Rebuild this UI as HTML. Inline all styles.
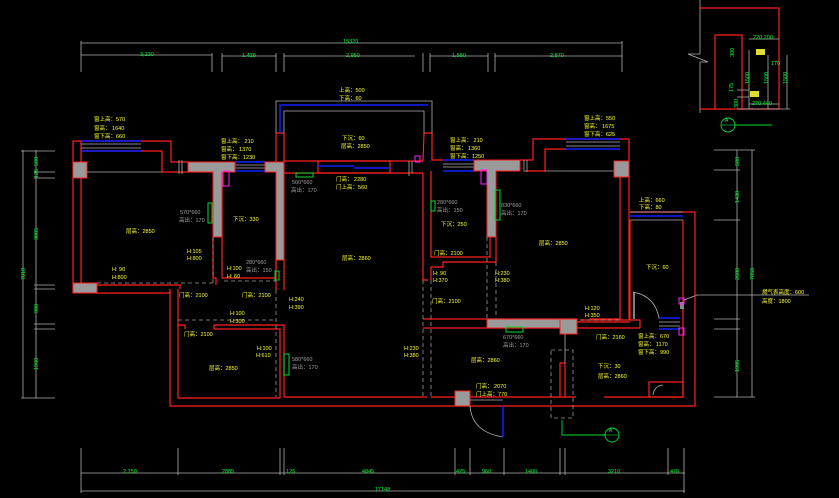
<!DOCTYPE html>
<html><head><meta charset="utf-8"><style>
html,body{margin:0;padding:0;background:#000;width:839px;height:498px;overflow:hidden}
svg{display:block}
text{font-family:"Liberation Sans","Noto Sans CJK SC",sans-serif;font-size:5.5px}
.y{fill:#ffff33}.g{fill:#00ff33}.w{fill:#a0a0a0}
.r{stroke:#ff2020;stroke-width:1.2;fill:none}
.gr{stroke:#b0b0b0;stroke-width:0.8;fill:none}
.bl{stroke:#1020ff;stroke-width:1.5}
.d{stroke:#999;stroke-width:0.8;stroke-dasharray:4 3;fill:none}
.gf{fill:#9a9a9a;stroke:#ff2020;stroke-width:1}
.gb{fill:none;stroke:#00dd33;stroke-width:1}
.mg{fill:none;stroke:#ff22ff;stroke-width:1}
</style></head><body>
<svg width="839" height="498" viewBox="0 0 839 498" xmlns="http://www.w3.org/2000/svg">
<!-- top dims -->
<g class="gr">
<line x1="81" y1="43" x2="622" y2="43"/>
<line x1="81" y1="55" x2="212" y2="55"/><line x1="222" y1="56" x2="276" y2="56"/>
<line x1="284" y1="56" x2="415" y2="56"/><line x1="430" y1="56" x2="488" y2="56"/><line x1="495" y1="56" x2="622" y2="56"/>
<line x1="81" y1="41" x2="81" y2="72"/><line x1="212" y1="53" x2="212" y2="72"/><line x1="222" y1="53" x2="222" y2="72"/>
<line x1="276" y1="53" x2="276" y2="72"/><line x1="284" y1="53" x2="284" y2="72"/><line x1="423" y1="53" x2="423" y2="72"/>
<line x1="430" y1="53" x2="430" y2="72"/><line x1="488" y1="53" x2="488" y2="72"/><line x1="495" y1="53" x2="495" y2="72"/><line x1="622" y1="41" x2="622" y2="72"/>
</g>
<text class="g" x="343" y="43">15320</text>
<text class="g" x="140" y="56">3,230</text><text class="g" x="242" y="57">1,428</text><text class="g" x="346" y="57">2,950</text>
<text class="g" x="452" y="57">1,580</text><text class="g" x="550" y="57">2,570</text>

<!-- left dims -->
<g class="gr">
<line x1="23" y1="150" x2="23" y2="398"/><line x1="36" y1="150" x2="36" y2="398"/>
<line x1="21" y1="151" x2="55" y2="151"/><line x1="34" y1="172" x2="55" y2="172"/><line x1="34" y1="178" x2="55" y2="178"/>
<line x1="34" y1="285" x2="55" y2="285"/><line x1="34" y1="289" x2="55" y2="289"/><line x1="34" y1="324" x2="55" y2="324"/><line x1="34" y1="329" x2="55" y2="329"/><line x1="21" y1="398" x2="55" y2="398"/>
</g>
<text class="g" transform="translate(38,166) rotate(-90)">580</text>
<text class="g" transform="translate(38,178) rotate(-90)">125</text>
<text class="g" transform="translate(38,240) rotate(-90)">3005</text>
<text class="g" transform="translate(25,280) rotate(-90)">7010</text>
<text class="g" transform="translate(38,313) rotate(-90)">980</text>
<text class="g" transform="translate(38,370) rotate(-90)">1960</text>

<!-- right dims -->
<g class="gr">
<line x1="737" y1="150" x2="737" y2="397"/><line x1="752" y1="150" x2="752" y2="397"/>
<line x1="714" y1="150" x2="755" y2="150"/><line x1="714" y1="170" x2="740" y2="170"/><line x1="714" y1="220" x2="740" y2="220"/>
<line x1="714" y1="319" x2="740" y2="319"/><line x1="714" y1="329" x2="740" y2="329"/><line x1="714" y1="397" x2="755" y2="397"/>
<line x1="684" y1="300" x2="697" y2="295"/><line x1="697" y1="295" x2="809" y2="295"/>
</g>
<text class="g" transform="translate(739,166) rotate(-90)">580</text>
<text class="g" transform="translate(739,203) rotate(-90)">1430</text>
<text class="g" transform="translate(739,280) rotate(-90)">2600</text>
<text class="g" transform="translate(754,280) rotate(-90)">7050</text>
<text class="g" transform="translate(739,372) rotate(-90)">1905</text>
<text class="y" x="762" y="294">燃气表高度：600</text><text class="y" x="762" y="303">高度：1800</text>

<!-- bottom dims -->
<g class="gr">
<line x1="81" y1="473" x2="685" y2="473"/><line x1="81" y1="491" x2="685" y2="491"/>
<line x1="81" y1="448" x2="81" y2="493"/><line x1="178" y1="448" x2="178" y2="475"/><line x1="280" y1="448" x2="280" y2="475"/>
<line x1="284" y1="448" x2="284" y2="475"/><line x1="455" y1="448" x2="455" y2="475"/><line x1="470" y1="448" x2="470" y2="475"/>
<line x1="504" y1="448" x2="504" y2="475"/><line x1="560" y1="448" x2="560" y2="475"/><line x1="565" y1="448" x2="565" y2="475"/>
<line x1="668" y1="448" x2="668" y2="475"/><line x1="684" y1="448" x2="684" y2="493"/>
</g>
<text class="g" x="123" y="473">2,750</text><text class="g" x="222" y="473">2885</text><text class="g" x="286" y="473">125</text>
<text class="g" x="362" y="473">4845</text><text class="g" x="456" y="473">425</text><text class="g" x="482" y="473">960</text>
<text class="g" x="525" y="473">1400</text><text class="g" x="608" y="473">3210</text><text class="g" x="670" y="473">470</text>
<text class="g" x="375" y="491">17148</text>

<!-- top right inset -->
<g>
<polyline class="gr" points="700,0 700,54 688,54 708,62 700,62 700,113"/>
<polyline class="r" points="700,8 779,8 779,109 700,109"/>
<polyline class="r" points="715,109 715,35 742,35 742,109"/>
<g class="gr">
<line x1="749" y1="39" x2="779" y2="39"/><line x1="749" y1="50" x2="749" y2="109"/><line x1="768" y1="55" x2="768" y2="109"/>
<line x1="787" y1="55" x2="787" y2="109"/><line x1="737" y1="109" x2="790" y2="109"/><line x1="749" y1="104" x2="779" y2="104"/>
<line x1="737" y1="90" x2="749" y2="90"/><line x1="737" y1="97" x2="749" y2="97"/>
</g>
<rect x="756" y="49" width="9" height="6" fill="#dddd33"/><rect x="750" y="91" width="9" height="6" fill="#dddd33"/>
<text class="g" x="753" y="39">220 200</text><text class="g" x="771" y="65">170</text>
<text class="g" x="752" y="105">270 440</text>
<text class="g" transform="translate(749,84) rotate(-90)">1500</text>
<text class="g" transform="translate(768,84) rotate(-90)">1500</text>
<text class="g" transform="translate(787,84) rotate(-90)">1500</text>
<text class="g" transform="translate(734,57) rotate(-90)">300</text>
<text class="g" transform="translate(733,92) rotate(-90)">175</text>
<text class="g" transform="translate(738,108) rotate(-90)">300</text>
<circle cx="728" cy="125" r="7" fill="none" stroke="#00dd33" stroke-width="0.9"/>
<line x1="721" y1="125" x2="735" y2="125" stroke="#00dd33" stroke-width="0.6"/>
<line x1="735" y1="125" x2="772" y2="125" stroke="#00dd33" stroke-width="0.9"/>
<text class="g" x="725" y="122" style="font-size:5px">A</text>
</g>

<!-- section symbol bottom -->
<polyline points="562,420 562,435 605,435" fill="none" stroke="#00dd33" stroke-width="0.9"/>
<circle cx="612" cy="435" r="7" fill="none" stroke="#00dd33" stroke-width="0.9"/>
<line x1="605" y1="435" x2="619" y2="435" stroke="#00dd33" stroke-width="0.6"/>
<text class="g" x="609" y="432" style="font-size:5px">A</text>

<!-- walls -->
<g class="r">
<!-- left exterior -->
<polyline points="73,293 73,141 171,141 171,162 188,162"/>
<polyline points="81,285 81,151 162,151 162,172 213,172"/>
<line x1="81" y1="141" x2="81" y2="151"/>
<!-- top middle bump -->
<polyline points="276,162 276,133 284,133 284,161 423,161"/>
<polyline points="284,173 423,173"/>
<polyline points="423,161 424,133 432,133 432,160 443,160"/>
<!-- center right wall -->
<polyline points="423,173 423,280 428,280"/>
<polyline points="431,171 431,257 490,257 490,237"/>
<polyline points="496,237 496,262 443,262 443,267 431,267 431,280"/>
<!-- right top -->
<polyline points="520,160 533,160 533,139 629,139 629,320 580,320"/>
<polyline points="525,171 545,171 545,149 566,149"/>
<polyline points="620,177 620,319 590,319"/>
<!-- right room -->
<polyline points="630,212 695,212 695,406 170,406 170,293 97,293"/>
<polyline points="630,220 630,320 640,320 640,328"/>
<polyline points="683,220 683,397 604,397"/>
<polyline points="576,397 431,397"/>
<polyline points="427,397 284,397"/>
<!-- kitchen wall -->
<polyline points="423,319 577,319"/><polyline points="423,328 560,328"/>
<polyline points="577,322 630,322"/><polyline points="577,328 640,328"/>
<!-- left rooms -->
<polyline points="222,178 222,278 276,278 276,260"/>
<polyline points="213,237 213,278 216,278 216,285"/>
<polyline points="97,285 180,285 180,289"/>
<polyline points="170,289 170,293"/>
<polyline points="178,329 178,398 280,398 280,329 214,329 214,325 284,325 284,397"/>
<polyline points="178,329 178,325 185,325 185,329"/>
<line x1="276" y1="260" x2="276" y2="290"/><line x1="284" y1="260" x2="284" y2="290"/>
<line x1="178" y1="289" x2="178" y2="325"/>
<!-- kitchen partition -->
<polyline points="560,397 560,363 565,363 565,397"/>
<!-- small bath -->
<rect x="649" y="382" width="34" height="15"/>
</g>
<!-- windows -->
<g>
<line class="bl" x1="81" y1="141" x2="141" y2="141"/><line class="bl" x1="81" y1="151" x2="141" y2="151"/>
<line class="gr" x1="81" y1="144" x2="141" y2="144"/><line class="gr" x1="81" y1="148" x2="141" y2="148"/>
<line class="bl" x1="235" y1="162" x2="265" y2="162"/><line class="bl" x1="235" y1="171" x2="265" y2="171"/>
<line class="gr" x1="235" y1="165" x2="265" y2="165"/><line class="gr" x1="235" y1="168" x2="265" y2="168"/>
<line class="bl" x1="443" y1="160" x2="474" y2="160"/><line class="bl" x1="443" y1="171" x2="474" y2="171"/>
<line class="gr" x1="443" y1="164" x2="474" y2="164"/><line class="gr" x1="443" y1="167" x2="474" y2="167"/>
<line class="bl" x1="566" y1="139" x2="620" y2="139"/><line class="bl" x1="566" y1="149" x2="620" y2="149"/>
<line class="gr" x1="566" y1="142" x2="620" y2="142"/><line class="gr" x1="566" y1="146" x2="620" y2="146"/>
<line class="bl" x1="630" y1="216" x2="683" y2="216"/><line class="gr" x1="630" y1="212" x2="683" y2="212"/><line class="gr" x1="630" y1="220" x2="683" y2="220"/>
<line class="bl" x1="659" y1="318" x2="680" y2="318"/><line class="bl" x1="659" y1="329" x2="680" y2="329"/>
<line class="gr" x1="659" y1="322" x2="680" y2="322"/><line class="gr" x1="659" y1="326" x2="680" y2="326"/>
<!-- top bump -->
<polyline class="gr" points="276,133 276,101 432,101 432,133"/>
<polyline class="gr" points="284,133 284,111 424,111 424,133"/>
<polyline class="bl" points="280,133 280,105 428,105" fill="none"/>
<!-- center glass door -->
<rect x="318" y="161" width="72" height="12" class="r"/>
<line class="bl" x1="318" y1="166" x2="354" y2="166"/><line class="bl" x1="354" y1="168" x2="390" y2="168"/>
<line class="gr" x1="81" y1="172" x2="162" y2="172"/>
<line class="gr" x1="545" y1="171" x2="614" y2="171"/>
<line class="gr" x1="179" y1="160" x2="179" y2="174"/><line class="gr" x1="182" y1="160" x2="182" y2="174"/>
<line class="gr" x1="409" y1="161" x2="409" y2="176"/><line class="gr" x1="412" y1="161" x2="412" y2="173"/>
<line class="gr" x1="524" y1="160" x2="524" y2="172"/><line class="gr" x1="527" y1="160" x2="527" y2="172"/>
</g>
<!-- grey columns -->
<g class="gf">
<rect x="73" y="162" width="14" height="16"/>
<rect x="73" y="283" width="24" height="10"/>
<path d="M188,162 H235 V172 H222 V237 H213 V172 H188 Z"/>
<path d="M265,162 H284 V260 H276 V172 H265 Z"/>
<path d="M474,160 H520 V171 H496 V237 H487 V171 H474 Z"/>
<rect x="614" y="161" width="15" height="16"/>
<rect x="487" y="319" width="73" height="9"/>
<rect x="560" y="319" width="17" height="15"/>
<rect x="455" y="391" width="15" height="15"/>
</g>
<!-- dashed -->
<g class="d">
<line x1="97" y1="283" x2="213" y2="283"/><line x1="213" y1="237" x2="213" y2="283"/>
<line x1="224" y1="281" x2="276" y2="281"/>
<line x1="178" y1="320" x2="276" y2="320"/>
<line x1="276" y1="290" x2="276" y2="397"/>
<line x1="423" y1="280" x2="423" y2="397"/><line x1="431" y1="280" x2="431" y2="397"/>
<line x1="487" y1="237" x2="487" y2="319"/><line x1="496" y1="262" x2="496" y2="319"/>
<line x1="580" y1="320" x2="620" y2="320"/>
<rect x="551" y="350" width="22" height="68"/>
</g>
<line class="gr" x1="565" y1="334" x2="565" y2="363"/>
<!-- doors -->
<path d="M470,406 Q472,432 503,437" class="gr"/>
<line class="bl" x1="503" y1="406" x2="503" y2="437"/>
<line class="gr" x1="470" y1="400" x2="503" y2="400"/>
<path d="M633,292 Q655,296 659,318" class="gr"/>
<line x1="634" y1="292" x2="634" y2="319" stroke="#aaa" stroke-width="1.5"/>
<path d="M653,395 Q654,386 663,385" class="gr"/>
<rect x="680" y="302" width="4" height="7" fill="#888"/>
<!-- green and magenta boxes -->
<g class="gb">
<rect x="296" y="173" width="17" height="4"/><rect x="208" y="203" width="4" height="20"/>
<rect x="275" y="271" width="4" height="9"/><rect x="284" y="354" width="5" height="21"/>
<rect x="431" y="201" width="4" height="10"/><rect x="495" y="190" width="5" height="30"/>
<rect x="506" y="327" width="17" height="5"/>
</g>
<g class="mg">
<rect x="223" y="171" width="6" height="15"/><rect x="415" y="156" width="5" height="6"/>
<rect x="481" y="170" width="6" height="14"/><rect x="679" y="298" width="5" height="6"/><rect x="679" y="328" width="5" height="7"/>
</g>
<!-- labels -->
<g class="y">
<text x="94" y="121">窗上高：570</text><text x="94" y="130">窗高： 1640</text><text x="94" y="138">窗下高：660</text>
<text x="221" y="143">窗上高： 210</text><text x="221" y="151">窗高： 1370</text><text x="221" y="159">窗下高：1230</text>
<text x="339" y="92">上高：500</text><text x="339" y="100">下高：60</text>
<text x="342" y="140">下沉：60</text><text x="341" y="148">层高：2850</text>
<text x="336" y="181">门高： 2280</text><text x="336" y="189">门上高：560</text>
<text x="450" y="142">窗上高： 210</text><text x="450" y="150">窗高： 1360</text><text x="450" y="158">窗下高：1250</text>
<text x="584" y="120">窗上高：550</text><text x="584" y="128">窗高： 1675</text><text x="584" y="136">窗下高：625</text>
<text x="639" y="202">上高：660</text><text x="639" y="209">下高：80</text>
<text x="126" y="233">层高：2850</text><text x="233" y="221">下沉：330</text>
<text x="441" y="226">下沉：250</text><text x="539" y="245">层高：2850</text>
<text x="342" y="260">层高：2860</text><text x="646" y="269">下沉：60</text>
<text x="187" y="253">H:105</text><text x="187" y="260">H:800</text>
<text x="112" y="271">H: 90</text><text x="112" y="279">H:800</text>
<text x="227" y="270">H:100</text><text x="227" y="278">H: 60</text>
<text x="179" y="297">门高：2100</text><text x="242" y="297">门高：2100</text>
<text x="289" y="301">H:240</text><text x="289" y="309">H:390</text>
<text x="230" y="315">H:100</text><text x="230" y="323">H:300</text>
<text x="184" y="336">门高：2100</text>
<text x="257" y="350">H:100</text><text x="256" y="357">H:610</text>
<text x="209" y="370">层高：2850</text>
<text x="434" y="255">门高：2100</text>
<text x="433" y="275">H: 90</text><text x="433" y="282">H:370</text>
<text x="495" y="275">H:230</text><text x="495" y="282">H:380</text>
<text x="432" y="303">门高：2100</text>
<text x="585" y="310">H:120</text><text x="585" y="317">H:350</text>
<text x="404" y="350">H:230</text><text x="404" y="357">H:380</text>
<text x="471" y="362">层高：2860</text>
<text x="476" y="388">门高： 2070</text><text x="476" y="396">门上高：770</text>
<text x="596" y="339">门高：2160</text>
<text x="638" y="338">窗上高：670</text><text x="638" y="346">窗高： 1170</text><text x="638" y="354">窗下高：990</text>
<text x="598" y="368">下沉：30</text><text x="598" y="378">层高：2860</text>
</g>
<g class="w">
<text x="180" y="214">570*660</text><text x="179" y="222">高出：170</text>
<text x="292" y="184">500*660</text><text x="291" y="192">高出：170</text>
<text x="246" y="264">280*660</text><text x="246" y="272">高出：150</text>
<text x="437" y="204">280*660</text><text x="437" y="212">高出：150</text>
<text x="501" y="207">830*660</text><text x="501" y="215">高出：170</text>
<text x="292" y="361">580*660</text><text x="292" y="369">高出：170</text>
<text x="503" y="339">670*660</text><text x="503" y="347">高出：170</text>
</g>
</svg>
</body></html>
